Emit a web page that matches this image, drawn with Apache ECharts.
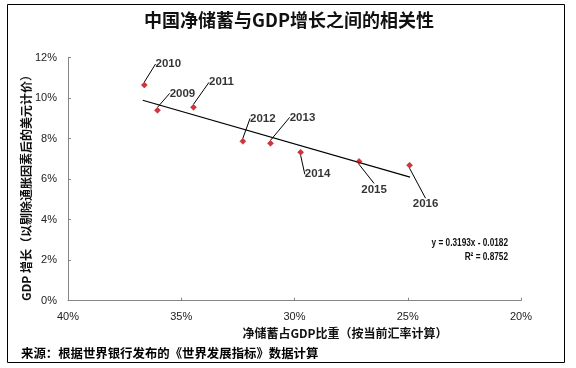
<!DOCTYPE html>
<html>
<head>
<meta charset="utf-8">
<script src="https://cdn.jsdelivr.net/npm/echarts@6/dist/echarts.min.js"></script>
<style>
html,body{margin:0;padding:0;background:#fff;}
#chart{width:576px;height:368px;}
</style>
</head>
<body>
<div id="chart"></div>
<script>
// ---- data ----
const years = ['2009', '2010', '2011', '2012', '2013', '2014', '2015', '2016'];
const savingsPct = [36.05, 36.63, 34.46, 32.28, 31.06, 29.73, 27.15, 24.92]; // x: net savings % of GDP
const growthPct = [9.40, 10.65, 9.55, 7.87, 7.77, 7.33, 6.88, 6.69];        // y: GDP growth %
const trendX = [36.7, 24.9];
const trendY = [9.9, 6.1];
const xTickMin = 20, xTickMax = 40, xTickStep = 5;
const yTickMin = 0, yTickMax = 12, yTickStep = 2;
const titleText = '中国净储蓄与GDP增长之间的相关性';
const xName = '净储蓄占GDP比重（按当前汇率计算）';
const yName = 'GDP 增长（以剔除通胀因素后的美元计价）';
const sourceText = '来源：根据世界银行发布的《世界发展指标》数据计算';
const eqLines = ['y = 0.3193x - 0.0182', 'R² = 0.8752'];

// ---- label placement (style, not data) ----
const labelOffsets = {
  '2009': [25, -17], '2010': [24, -21], '2011': [28, -25], '2012': [20, -23],
  '2013': [32, -26], '2014': [17, 22], '2015': [15, 28], '2016': [16, 39]
};

const chart = echarts.init(document.getElementById('chart'), null, {renderer: 'canvas'});
const cjk = '"Noto Sans CJK SC", "Noto Sans", sans-serif';
const axisColor = '#868686';

const scatterData = years.map((y, i) => ({name: y, value: [savingsPct[i], growthPct[i]]}));
const trendData = trendX.map((x, i) => [x, trendY[i]]);

chart.setOption({
  animation: false,
  backgroundColor: '#fff',
  grid: {left: 68, right: 55, top: 57.7, bottom: 67.3, containLabel: false},
  xAxis: {
    type: 'value', min: xTickMin, max: xTickMax, interval: xTickStep, inverse: true,
    axisLine: {show: true, lineStyle: {color: axisColor, width: 1}},
    axisTick: {show: true, inside: true, length: 3, lineStyle: {color: axisColor}},
    splitLine: {show: false},
    axisLabel: {formatter: v => v + '%', color: '#222', fontFamily: '"Liberation Sans", sans-serif', fontSize: 11, margin: 11}
  },
  yAxis: {
    type: 'value', min: yTickMin, max: yTickMax, interval: yTickStep,
    axisLine: {show: true, lineStyle: {color: axisColor, width: 1}},
    axisTick: {show: true, inside: true, length: 3, lineStyle: {color: axisColor}},
    splitLine: {show: false},
    axisLabel: {formatter: v => v + '%', color: '#222', fontFamily: '"Liberation Sans", sans-serif', fontSize: 11, margin: 11}
  },
  series: [
    {
      type: 'line', data: trendData, symbol: 'none', silent: true,
      lineStyle: {color: '#000', width: 1.2}, z: 1
    },
    {
      type: 'scatter', data: scatterData, symbol: 'diamond', symbolSize: 6,
      itemStyle: {color: '#c8000a', borderColor: '#a00000', borderWidth: 0.5}, z: 3,
      label: {
        show: true, position: 'inside', formatter: p => p.name,
        color: '#000', fontWeight: 'bold', fontSize: 11.5,
        fontFamily: '"Liberation Sans", sans-serif'
      },
      labelLine: {show: true, lineStyle: {color: '#000', width: 1}},
      labelLayout: function (params) {
        const o = labelOffsets[years[params.dataIndex]];
        return {dx: o[0], dy: o[1]};
      }
    }
  ],
  graphic: [
    {type: 'rect', shape: {x: 7.5, y: 4.5, width: 557, height: 358}, style: {fill: 'none', stroke: '#000', lineWidth: 1}, silent: true},
    {type: 'text', x: 289, y: 20, style: {text: titleText, font: 'bold 18px ' + cjk, fill: '#111', align: 'center', verticalAlign: 'middle'}},
    {type: 'text', x: 345, y: 333, style: {text: xName, font: 'bold 12px ' + cjk, fill: '#111', align: 'center', verticalAlign: 'middle'}},
    {type: 'text', x: 26, y: 185, rotation: Math.PI / 2, style: {text: yName, font: 'bold 12px ' + cjk, fill: '#111', align: 'center', verticalAlign: 'middle'}},
    {type: 'text', x: 21, y: 353, style: {text: sourceText, font: 'bold 12.4px ' + cjk, fill: '#000', align: 'left', verticalAlign: 'middle'}},
    {type: 'text', x: 508, y: 243, scaleX: 0.75, style: {text: eqLines[0], font: 'bold 11px "Liberation Sans", sans-serif', fill: '#111', align: 'right', verticalAlign: 'middle'}},
    {type: 'text', x: 508, y: 257, scaleX: 0.75, style: {text: eqLines[1], font: 'bold 11px "Liberation Sans", sans-serif', fill: '#111', align: 'right', verticalAlign: 'middle'}}
  ]
});
</script>
</body>
</html>
